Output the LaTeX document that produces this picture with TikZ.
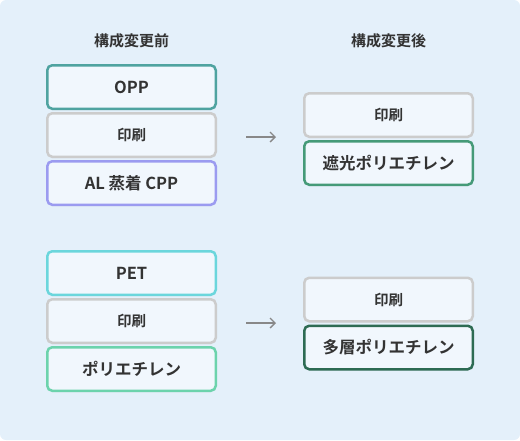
\documentclass[tikz,border=0pt]{standalone}
\usepackage{fontspec}
\setmainfont{Noto Sans CJK JP}[BoldFont={Noto Sans CJK JP Bold}]
\usetikzlibrary{positioning,arrows.meta,shadows}

\definecolor{bgblue}{HTML}{E4F0FA}
\definecolor{boxfill}{HTML}{F1F7FD}
\definecolor{inkgray}{HTML}{333333}
\definecolor{printgray}{HTML}{CCCCCC}
\definecolor{oppteal}{HTML}{4FA3A0}
\definecolor{alviolet}{HTML}{9B9BF0}
\definecolor{petcyan}{HTML}{6BD6DC}
\definecolor{pemint}{HTML}{6CD3AC}
\definecolor{shadegreen}{HTML}{459A78}
\definecolor{multigreen}{HTML}{2D6B53}
\definecolor{arrowgray}{HTML}{888888}

\begin{document}
\begin{tikzpicture}[
                x=1pt, y=-1pt,
                layer/.style={draw=#1, fill=boxfill, line width=2.5pt, rounded corners=5pt,
                    minimum width=168.5pt, minimum height=43.5pt, text=inkgray,
                    font=\fontsize{16.5}{18}\selectfont\bfseries,
                    drop shadow={opacity=0.06, shadow xshift=0pt, shadow yshift=-1.5pt}},
                printlayer/.style={layer=printgray, font=\fontsize{14.5}{16}\selectfont\bfseries},
                heading/.style={text=inkgray, font=\fontsize{15}{16}\selectfont\bfseries},
                change/.style={draw=arrowgray, line width=1.3pt, -{Straight Barb[length=5pt, width=10pt]}},
                node distance=2pt]
        % Background panel.
        \fill[bgblue, rounded corners=6pt] (0,0) rectangle (520,440);

        % Column headings.
        \node[heading] (before) at (131.5,41) {構成変更前};
        \node[heading] (after) at (388.5,41) {構成変更後};

        % First structure: OPP / print / AL-vapour CPP.
        \node[layer=oppteal] (opp) at (131.5,87) {OPP};
        \node[printlayer, below=of opp] (print1) {印刷};
        \node[layer=alviolet, below=of print1] (alcpp) {AL 蒸着 CPP};

        \node[printlayer] (print2) at (388.5,115) {印刷};
        \node[layer=shadegreen, below=of print2] (shadepe) {遮光ポリエチレン};

        % Second structure: PET / print / polyethylene.
        \node[layer=petcyan] (pet) at (131.5,273) {PET};
        \node[printlayer, below=of pet] (print3) {印刷};
        \node[layer=pemint, below=of print3] (pe) {ポリエチレン};

        \node[printlayer] (print4) at (388.5,299.5) {印刷};
        \node[layer=multigreen, below=of print4] (multipe) {多層ポリエチレン};

        % Change arrows between the two columns.
        \coordinate (from1) at (246,137);
        \coordinate (to1) at (276,137);
        \coordinate (from2) at (246,323);
        \coordinate (to2) at (276,323);
        \foreach \n in {1,2} { \draw[change] (from\n) -- (to\n); }
\end{tikzpicture}
\end{document}
